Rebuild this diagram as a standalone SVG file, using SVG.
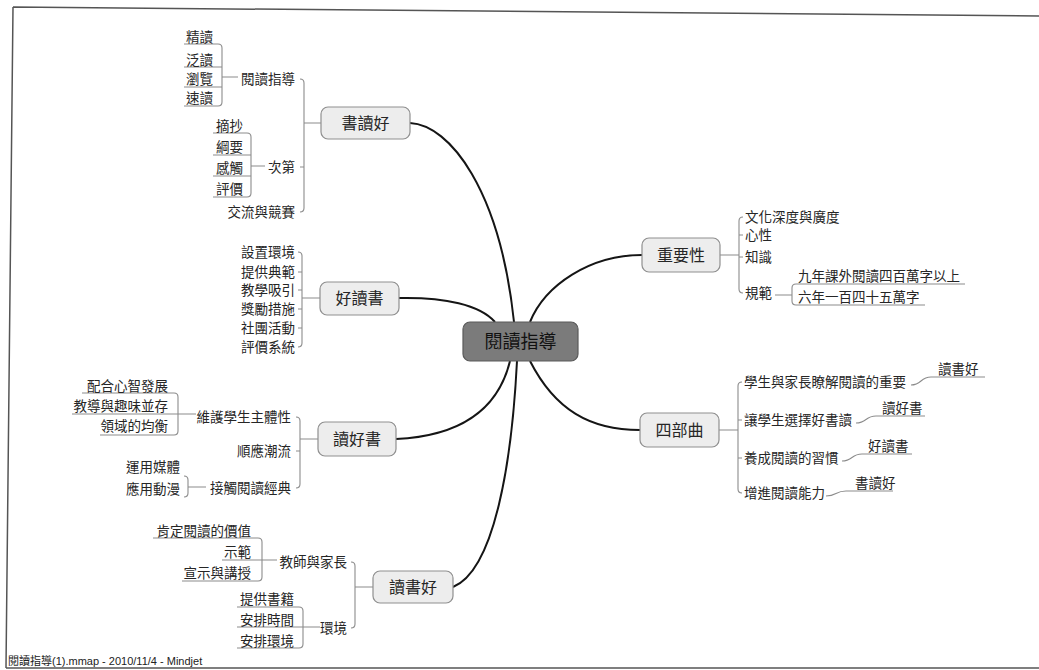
<svg xmlns="http://www.w3.org/2000/svg" width="1039" height="670" viewBox="0 0 1039 670">
<style>
.t{font-family:"Noto Sans CJK TC","Noto Sans CJK SC",sans-serif;font-size:13.5px;fill:#262626}
.e{text-anchor:end}
.m{text-anchor:middle}
.tm{font-size:16px}
.tc{font-size:18px;fill:#111}
.box{fill:#ededed;stroke:#8f8f8f;stroke-width:1.2}
.cbox{fill:#7b7b7b;stroke:#5a5a5a;stroke-width:1.2}
.main{fill:none;stroke:#151515;stroke-width:2}
.br{fill:none;stroke:#8c8c8c;stroke-width:1.1}
.frame{fill:none;stroke:#555;stroke-width:1.5}
.cap{font-family:"Liberation Sans","Noto Sans CJK TC",sans-serif;font-size:11px;fill:#222}
</style>
<rect width="1039" height="670" fill="#fff"/>
<g id="frame">
<path class="frame" d="M13,7 L1039,16 M13,7 L6,668 M6,668 L1039,668"/>
</g>
<g id="connectors">
<path class="main" d="M410,123 C450,125 500,190 514,322"/>
<path class="main" d="M399,298 C445,297 480,305 495,322"/>
<path class="main" d="M510,361 C498,410 460,436 396,439"/>
<path class="main" d="M517,361 C512,460 495,570 453,587"/>
<path class="main" d="M530,322 C545,285 590,255 642,255"/>
<path class="main" d="M530,361 C555,410 590,430 640,430"/>
<path class="br" d="M300,79 Q304,79 304,83 L304,208 Q304,212 300,212 M304,167 L300,167 M321,123 L304,123"/>
<path class="br" d="M184,44 L218,44 Q222,44 222,48 L222,102 Q222,106 218,106 L184,106 M184,67 L222,67 M184,87 L222,87 M222,77 L238,77"/>
<path class="br" d="M213,133 L247,133 Q251,133 251,137 L251,193 Q251,197 247,197 L213,197 M213,155 L251,155 M213,176 L251,176 M251,166 L265,166"/>
<path class="br" d="M298,252 Q302,252 302,256 L302,343 Q302,347 298,347 M302,272 L298,272 M302,290 L298,290 M302,309 L298,309 M302,328 L298,328 M320,298 L302,298"/>
<path class="br" d="M296,417 Q300,417 300,421 L300,484 Q300,488 296,488 M300,451 L296,451 M318,439 L300,439"/>
<path class="br" d="M82,393 L174,393 Q178,393 178,397 L178,431 Q178,435 174,435 L100,435 M72,414 L196,414"/>
<path class="br" d="M184,476 Q188,476 188,480 L188,493 Q188,497 184,497 M188,487 L206,487"/>
<path class="br" d="M351,562 Q355,562 355,566 L355,624 Q355,628 351,628 M373,587 L355,587"/>
<path class="br" d="M153,538 L258,538 Q262,538 262,542 L262,577 Q262,581 258,581 L182,581 M222,560 L277,560"/>
<path class="br" d="M237,607 L299,607 Q303,607 303,611 L303,644 Q303,648 299,648 L237,648 M237,627 L320,627"/>
<path class="br" d="M743,217 Q739,217 739,221 L739,289 Q739,293 743,293 M739,235 L743,235 M739,257 L743,257 M720,255 L739,255"/>
<path class="br" d="M965,284 L796,284 Q792,284 792,288 L792,301 Q792,305 796,305 L925,305 M775,295 L792,295"/>
<path class="br" d="M742,382 Q738,382 738,386 L738,489 Q738,493 742,493 M738,420 L742,420 M738,458 L742,458 M719,430 L738,430"/>
<path class="br" d="M911,385 C922,385 920,377 931,377 L985,377"/>
<path class="br" d="M856,423 C867,423 865,416 876,416 L925,416"/>
<path class="br" d="M842,461 C853,461 851,454 862,454 L912,454"/>
<path class="br" d="M826,496 C837,496 835,491 846,491 L893,491"/>
</g>
<g id="center"><rect class="cbox" x="463" y="322" width="115" height="39" rx="7"/><text class="t tc m" x="520.5" y="348">閱讀指導</text></g>
<g id="n-shudu-top"><rect class="box" x="321" y="107" width="89" height="32" rx="7"/><text class="t tm m" x="365.5" y="129">書讀好</text></g>
<g id="n-haodushu"><rect class="box" x="320" y="282" width="79" height="33" rx="7"/><text class="t tm m" x="359.5" y="304">好讀書</text></g>
<g id="n-duhaoshu"><rect class="box" x="318" y="422" width="78" height="34" rx="7"/><text class="t tm m" x="357" y="445">讀好書</text></g>
<g id="n-dushuhao"><rect class="box" x="373" y="571" width="80" height="32" rx="7"/><text class="t tm m" x="413" y="593">讀書好</text></g>
<g id="n-zhongyao"><rect class="box" x="642" y="238" width="78" height="34" rx="7"/><text class="t tm m" x="681" y="261">重要性</text></g>
<g id="n-sibuqu"><rect class="box" x="640" y="413" width="79" height="34" rx="7"/><text class="t tm m" x="679.5" y="436">四部曲</text></g>
<g id="n-a1"><text class="t e" x="295" y="84">閱讀指導</text></g>
<g id="n-a2"><text class="t e" x="295" y="172">次第</text></g>
<g id="n-a3"><text class="t e" x="295" y="217">交流與競賽</text></g>
<g id="n-a1-1"><text class="t e" x="213" y="42">精讀</text></g>
<g id="n-a1-2"><text class="t e" x="213" y="65">泛讀</text></g>
<g id="n-a1-3"><text class="t e" x="213" y="84">瀏覽</text></g>
<g id="n-a1-4"><text class="t e" x="213" y="103">速讀</text></g>
<g id="n-a2-1"><text class="t e" x="243" y="131">摘抄</text></g>
<g id="n-a2-2"><text class="t e" x="243" y="152">綱要</text></g>
<g id="n-a2-3"><text class="t e" x="243" y="173">感觸</text></g>
<g id="n-a2-4"><text class="t e" x="243" y="194">評價</text></g>
<g id="n-b1"><text class="t e" x="295" y="257">設置環境</text></g>
<g id="n-b2"><text class="t e" x="295" y="277">提供典範</text></g>
<g id="n-b3"><text class="t e" x="295" y="295">教學吸引</text></g>
<g id="n-b4"><text class="t e" x="295" y="314">獎勵措施</text></g>
<g id="n-b5"><text class="t e" x="295" y="333">社團活動</text></g>
<g id="n-b6"><text class="t e" x="295" y="352">評價系統</text></g>
<g id="n-c1"><text class="t e" x="291" y="422">維護學生主體性</text></g>
<g id="n-c2"><text class="t e" x="291" y="456">順應潮流</text></g>
<g id="n-c3"><text class="t e" x="291" y="493">接觸閱讀經典</text></g>
<g id="n-c1-1"><text class="t e" x="168" y="391">配合心智發展</text></g>
<g id="n-c1-2"><text class="t e" x="168" y="411">教導與趣味並存</text></g>
<g id="n-c1-3"><text class="t e" x="168" y="431">領域的均衡</text></g>
<g id="n-c3-1"><text class="t e" x="180" y="472">運用媒體</text></g>
<g id="n-c3-2"><text class="t e" x="180" y="494">應用動漫</text></g>
<g id="n-d1"><text class="t e" x="347" y="567">教師與家長</text></g>
<g id="n-d2"><text class="t e" x="347" y="633">環境</text></g>
<g id="n-d1-1"><text class="t e" x="251" y="536">肯定閱讀的價值</text></g>
<g id="n-d1-2"><text class="t e" x="251" y="557">示範</text></g>
<g id="n-d1-3"><text class="t e" x="251" y="578">宣示與講授</text></g>
<g id="n-d2-1"><text class="t e" x="294" y="604">提供書籍</text></g>
<g id="n-d2-2"><text class="t e" x="294" y="625">安排時間</text></g>
<g id="n-d2-3"><text class="t e" x="294" y="646">安排環境</text></g>
<g id="n-e1"><text class="t" x="745" y="222">文化深度與廣度</text></g>
<g id="n-e2"><text class="t" x="745" y="240">心性</text></g>
<g id="n-e3"><text class="t" x="745" y="262">知識</text></g>
<g id="n-e4"><text class="t" x="745" y="298">規範</text></g>
<g id="n-e4-1"><text class="t" x="798" y="281">九年課外閱讀四百萬字以上</text></g>
<g id="n-e4-2"><text class="t" x="798" y="302">六年一百四十五萬字</text></g>
<g id="n-f1"><text class="t" x="744" y="387">學生與家長瞭解閱讀的重要</text></g>
<g id="n-f2"><text class="t" x="744" y="425">讓學生選擇好書讀</text></g>
<g id="n-f3"><text class="t" x="744" y="463">養成閱讀的習慣</text></g>
<g id="n-f4"><text class="t" x="744" y="498">增進閱讀能力</text></g>
<g id="n-f1-1"><text class="t" x="938" y="374">讀書好</text></g>
<g id="n-f2-1"><text class="t" x="882" y="413">讀好書</text></g>
<g id="n-f3-1"><text class="t" x="868" y="451">好讀書</text></g>
<g id="n-f4-1"><text class="t" x="855" y="488">書讀好</text></g>
<g id="caption"><text class="cap" x="8" y="665">閱讀指導(1).mmap - 2010/11/4 - Mindjet</text></g>
</svg>
